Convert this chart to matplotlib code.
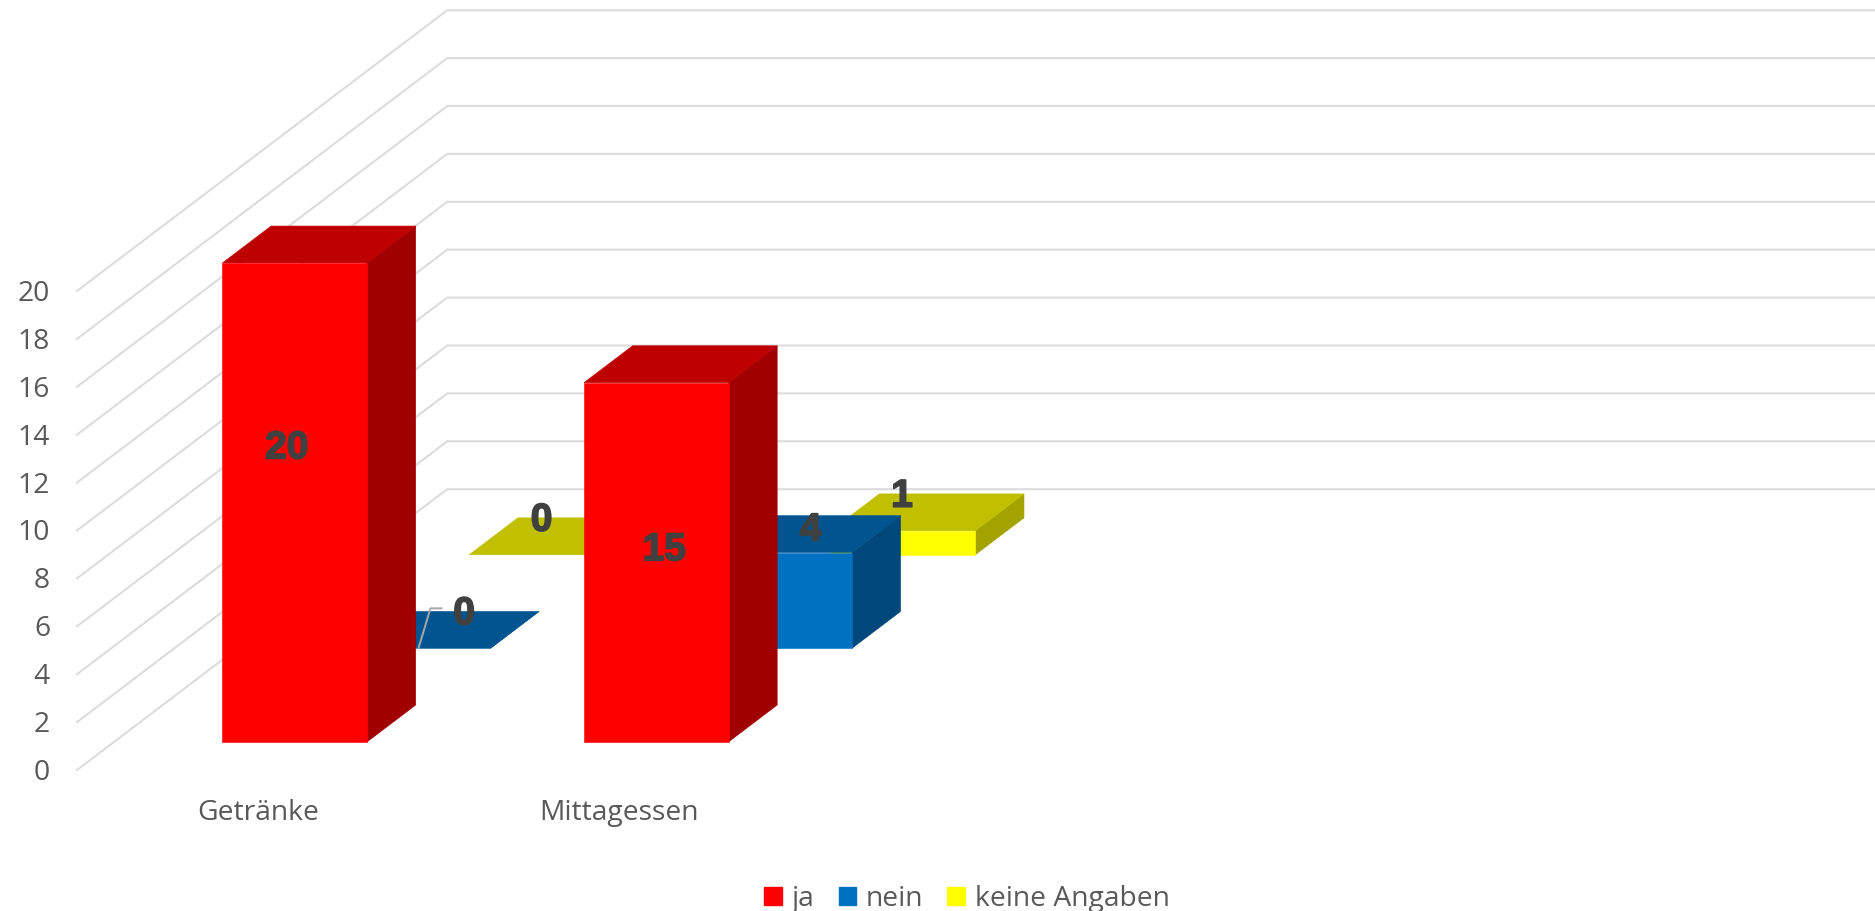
import matplotlib
matplotlib.use("Agg")
import matplotlib.pyplot as plt
import matplotlib.patheffects as pe
from matplotlib.patches import Patch

categories = ["Getränke", "Mittagessen"]
series_names = ["ja", "nein", "keine Angaben"]
ja = [20, 15]
nein = [0, 4]
keine = [0, 1]
y_ticks = [0, 2, 4, 6, 8, 10, 12, 14, 16, 18, 20]

front_cols = ["#FF0000", "#0070C0", "#FFFF00"]
top_cols = ["#BF0000", "#005591", "#C0C000"]
side_cols = ["#A00000", "#00487C", "#A3A300"]

# pixel offsets of the hand placed data labels, per series and category
label_off = [[(-8, -54), (8, -12)], [(46, -34), (31, -70)], [(0, -34), (-1, -46)]]

# oblique projection, the same one the 3d chart uses
X0, Y0 = 77, 770
CAT_W = 361.5
UNIT = 23.95
ROW_DX, ROW_DY = 123.4, 93.6
BAR_W = 0.4
BAR_D = 0.394


def proj(x, row, val):
    return X0 + x * CAT_W + row * ROW_DX, Y0 - val * UNIT - row * ROW_DY


def face(ax, pts, col, z):
    xs = [p[0] for p in pts]
    ys = [p[1] for p in pts]
    ax.fill(xs, ys, facecolor=col, edgecolor=col, lw=0.4, zorder=z)


fig = plt.figure(figsize=(18.75, 9.11), dpi=100)
ax = fig.add_axes([0, 0, 1, 1])
ax.set_xlim(0, 1875)
ax.set_ylim(911, 0)
ax.axis("off")
plt.rcParams["font.family"] = ["Open Sans", "DejaVu Sans"]

for v in y_ticks:
    x1, y1 = proj(0, 0, v)
    x2, y2 = proj(0, 3, v)
    ax.plot([x1, x2, 1875], [y1, y2, y2], color="#DCDCDC", lw=1.5, zorder=1)
    ax.text(50, y1 + 3, str(v), ha="right", va="center", fontsize=20.3, color="#595959")

for i, c in enumerate(categories):
    ax.text(proj(i + 0.5, 0, 0)[0], 813, c, ha="center", va="center", fontsize=20.3, color="#595959")

values = [ja, nein, keine]
z = 2
# back row first so the front bars cover it
for s in [2, 1, 0]:
    for i in range(len(categories)):
        v = values[s][i]
        l = i + 0.5 - BAR_W / 2
        r = i + 0.5 + BAR_W / 2
        a = s + 0.3
        b = a + BAR_D
        face(ax, [proj(r, a, 0), proj(r, b, 0), proj(r, b, v), proj(r, a, v)], side_cols[s], z)
        face(ax, [proj(l, a, v), proj(r, a, v), proj(r, b, v), proj(l, b, v)], top_cols[s], z)
        if v > 0:
            face(ax, [proj(l, a, 0), proj(r, a, 0), proj(r, a, v), proj(l, a, v)], front_cols[s], z)
    z += 1

# leader line of the moved label on the blue zero
lx, ly = proj(0.5 + BAR_W / 2, 1.3, 0)
ax.plot([lx - 72, lx - 60, lx - 49], [ly, ly - 40, ly - 40], color="#A6A6A6", lw=1.4, zorder=z)
z += 1

for s in range(3):
    for i in range(len(categories)):
        cx, cy = proj(i + 0.5, s + 0.3, values[s][i] / 2)
        dx, dy = label_off[s][i]
        ax.text(cx + dx, cy + dy, str(values[s][i]), ha="center", va="center",
                family="Liberation Sans", fontweight="bold", fontsize=28, color="#404040", zorder=z,
                path_effects=[pe.withStroke(linewidth=1.2, foreground="#404040")])

handles = [Patch(facecolor=c, edgecolor=c, label=n) for c, n in zip(front_cols, series_names)]
ax.legend(handles=handles, loc="center", bbox_to_anchor=(967 / 1875, 1 - 899 / 911), ncols=3,
          frameon=False, fontsize=20.3, labelcolor="#595959", handlelength=0.62, handleheight=0.62,
          handletextpad=0.35, columnspacing=0.85, borderpad=0, borderaxespad=0)

fig.savefig("out.png", dpi=100, facecolor="white")
